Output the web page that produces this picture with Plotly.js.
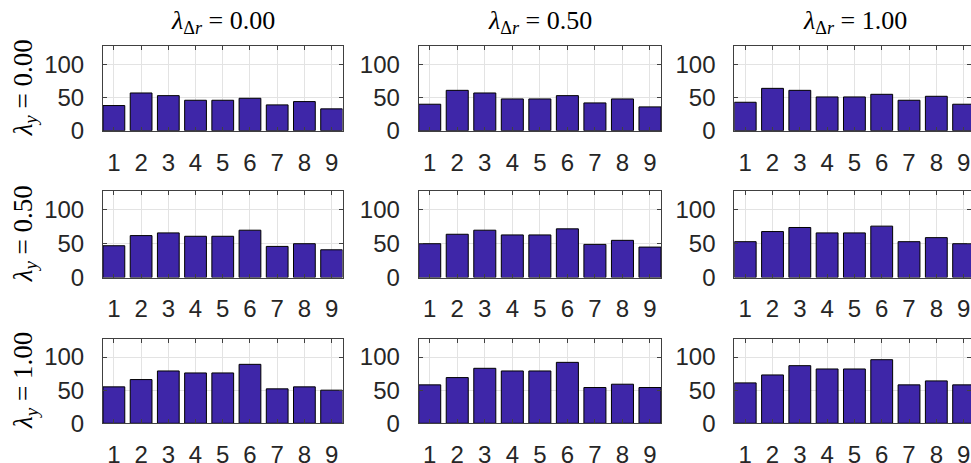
<!DOCTYPE html>
<html>
<head>
<meta charset="utf-8">
<script src="https://cdn.plot.ly/plotly-3.0.1.min.js"></script>
<style>html,body{margin:0;padding:0;background:#fff;}#chart{width:971px;height:463px;}</style>
</head>
<body>
<div id="chart"></div>
<script>
// categories
const categories = [1, 2, 3, 4, 5, 6, 7, 8, 9];
const lambdaDrLabels = ['0.00', '0.50', '1.00'];
const lambdaYLabels = ['0.00', '0.50', '1.00'];
const yTicks = [0, 50, 100];

// values: rows = lambda_y, cols = lambda_Δr
const ly000_ldr000 = [38, 57, 53, 46, 46, 49, 39, 44, 33];
const ly000_ldr050 = [40, 61, 57, 48, 48, 53, 42, 48, 36];
const ly000_ldr100 = [43, 64, 61, 51, 51, 55, 46, 52, 40];
const ly050_ldr000 = [47, 62, 66, 61, 61, 70, 46, 50, 41];
const ly050_ldr050 = [50, 64, 70, 63, 63, 72, 49, 55, 45];
const ly050_ldr100 = [53, 68, 74, 66, 66, 76, 53, 59, 50];
const ly100_ldr000 = [55, 66, 79, 76, 76, 89, 52, 55, 50];
const ly100_ldr050 = [58, 69, 83, 79, 79, 92, 54, 59, 54];
const ly100_ldr100 = [61, 73, 87, 82, 82, 96, 58, 64, 58];

const grid = [
  [ly000_ldr000, ly000_ldr050, ly000_ldr100],
  [ly050_ldr000, ly050_ldr050, ly050_ldr100],
  [ly100_ldr000, ly100_ldr050, ly100_ldr100]
];

const W = 971, H = 463;
const colPx = [[103, 342.5], [418.7, 661], [734.3, 971]];
const rowPx = [[46, 130.7], [191, 277.5], [338.5, 423.3]];
const pxPerUnit = 27.3;

const barColor = '#3E26A8';
const axisColor = '#404040';
const textColor = '#262626';
const sansFont = "Liberation Sans";
const serifFont = "Liberation Serif";

const data = [];
const layout = {
  width: W, height: H,
  margin: {l: 0, r: 0, t: 0, b: 0},
  paper_bgcolor: '#fff', plot_bgcolor: '#fff',
  showlegend: false,
  annotations: []
};

for (let r = 0; r < 3; r++) {
  for (let c = 0; c < 3; c++) {
    const idx = r * 3 + c + 1;
    const xa = 'x' + (idx === 1 ? '' : idx);
    const ya = 'y' + (idx === 1 ? '' : idx);
    data.push({
      type: 'bar', x: categories, y: grid[r][c], xaxis: xa, yaxis: ya,
      width: 0.8,
      marker: {color: barColor, line: {color: '#000', width: 1}},
      hoverinfo: 'x+y'
    });
    const xr = (c === 2) ? [0.6, 0.6 + (colPx[c][1] - colPx[c][0]) / pxPerUnit] : [0.6, 9.4];
    layout['xaxis' + (idx === 1 ? '' : idx)] = {
      domain: [colPx[c][0] / W, colPx[c][1] / W],
      anchor: ya,
      range: xr,
      tickmode: 'array', tickvals: categories, ticktext: categories.map(String),
      ticks: 'inside', ticklen: 4, tickcolor: axisColor,
      showline: true, linecolor: axisColor, linewidth: 1, mirror: 'ticks',
      showgrid: true, gridcolor: '#e3e3e3', gridwidth: 1,
      zeroline: false,
      ticklabelstandoff: 10,
      tickfont: {family: sansFont, size: 24, color: textColor},
      fixedrange: true
    };
    layout['yaxis' + (idx === 1 ? '' : idx)] = {
      domain: [1 - rowPx[r][1] / H, 1 - rowPx[r][0] / H],
      anchor: xa,
      range: [0, 128],
      tickmode: 'array', tickvals: yTicks, ticktext: yTicks.map(String),
      ticks: 'inside', ticklen: 4, tickcolor: axisColor,
      showline: true, linecolor: axisColor, linewidth: 1, mirror: 'ticks',
      showgrid: true, gridcolor: '#e3e3e3', gridwidth: 1,
      zeroline: false,
      ticklabelstandoff: 13,
      tickfont: {family: sansFont, size: 24, color: textColor},
      fixedrange: true
    };
  }
}

// column titles
for (let c = 0; c < 3; c++) {
  layout.annotations.push({
    xref: 'paper', yref: 'paper',
    x: (c === 2 ? (colPx[c][0] + 120.5) : (colPx[c][0] + colPx[c][1]) / 2) / W,
    y: 1 - 22 / H,
    xanchor: 'center', yanchor: 'middle', showarrow: false,
    text: '<i>λ</i><sub>Δ<i>r</i></sub> = ' + lambdaDrLabels[c],
    font: {family: serifFont, size: 26, color: '#000'}
  });
}
// row labels
for (let r = 0; r < 3; r++) {
  layout.annotations.push({
    xref: 'paper', yref: 'paper',
    x: 25 / W,
    y: 1 - ((rowPx[r][0] + rowPx[r][1]) / 2) / H,
    xanchor: 'center', yanchor: 'middle', showarrow: false,
    textangle: -90,
    text: '<i>λ</i><sub><i>y</i></sub> = ' + lambdaYLabels[r],
    font: {family: serifFont, size: 27, color: '#000'}
  });
}

Plotly.newPlot('chart', data, layout, {displayModeBar: false, staticPlot: true});
</script>
</body>
</html>
